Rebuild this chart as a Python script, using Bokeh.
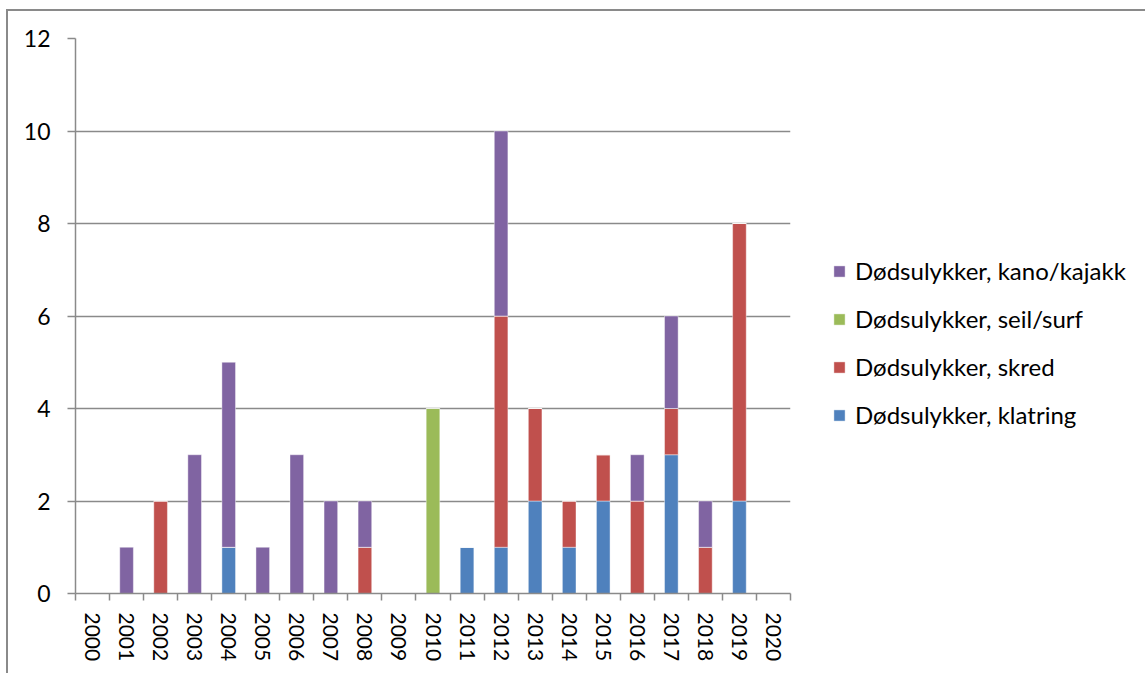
from bokeh.plotting import figure
from bokeh.models import (ColumnDataSource, Range1d, FixedTicker, Legend, LegendItem)
from bokeh.embed import file_html
from bokeh.resources import INLINE

years = [str(y) for y in range(2000, 2021)]
klatring = [0, 0, 0, 0, 1, 0, 0, 0, 0, 0, 0, 1, 1, 2, 1, 2, 0, 3, 0, 2, 0]
skred    = [0, 0, 2, 0, 0, 0, 0, 0, 1, 0, 0, 0, 5, 2, 1, 1, 2, 1, 1, 6, 0]
seil     = [0, 0, 0, 0, 0, 0, 0, 0, 0, 0, 4, 0, 0, 0, 0, 0, 0, 0, 0, 0, 0]
kano     = [0, 1, 0, 3, 4, 1, 3, 2, 1, 0, 0, 0, 4, 0, 0, 0, 1, 2, 1, 0, 0]

series_keys = ["klatring", "skred", "seil", "kano"]
series_labels = ["Dødsulykker, klatring", "Dødsulykker, skred",
                 "Dødsulykker, seil/surf", "Dødsulykker, kano/kajakk"]
colors = ["#4F81BD", "#C0504D", "#9BBB59", "#8064A2"]
y_ticks = [0, 2, 4, 6, 8, 10, 12]

FONT = "Lato"
GRID = "#8a8a8a"

n = len(years)
centers = [i + 0.5 for i in range(n)]   # category slots on the x scale
source = ColumnDataSource(dict(pos=centers, year=years, klatring=klatring,
                               skred=skred, seil=seil, kano=kano))

p = figure(x_range=Range1d(0, n), y_range=Range1d(0, 12),
           frame_width=715, frame_height=555,
           output_backend="svg", toolbar_location=None,
           min_border_left=67, min_border_top=27,
           min_border_right=0, min_border_bottom=80)
p.outline_line_color = None
p.styles = {"margin-left": "6px", "margin-top": "9px",
            "border-left": "2px solid #8a8a8a", "border-top": "2px solid #8a8a8a"}

renderers = p.vbar_stack(series_keys, x="pos", width=0.4, source=source,
                         color=colors, line_color="white", line_width=0.6,
                         line_alpha=0.7)

# y axis
yax = p.yaxis[0]
yax.ticker = FixedTicker(ticks=y_ticks)
yax.minor_tick_line_color = None
yax.major_tick_out = 8
yax.major_tick_in = 0
yax.major_tick_line_color = GRID
yax.major_tick_line_width = 1.5
yax.axis_line_color = GRID
yax.axis_line_width = 1.5
yax.major_label_text_font = FONT
yax.major_label_text_font_size = "23px"
yax.major_label_text_color = "black"
yax.major_label_standoff = 17

p.ygrid.ticker = FixedTicker(ticks=y_ticks)
p.ygrid.grid_line_color = GRID
p.ygrid.grid_line_width = 1.5
p.xgrid.grid_line_color = None

# x axis: labels at centres, tick marks at category boundaries
xax = p.xaxis[0]
xax.ticker = FixedTicker(ticks=centers, minor_ticks=list(range(n + 1)))
xax.major_label_overrides = {c: y for c, y in zip(centers, years)}
xax.major_tick_out = 0
xax.major_tick_in = 0
xax.minor_tick_out = 7
xax.minor_tick_in = 0
xax.minor_tick_line_color = GRID
xax.minor_tick_line_width = 1.5
xax.axis_line_color = GRID
xax.axis_line_width = 1.5
xax.major_label_orientation = "vertical"
xax.major_label_text_font = FONT
xax.major_label_text_font_size = "21px"
xax.major_label_text_color = "black"
xax.major_label_standoff = 12

items = [LegendItem(label=series_labels[i], renderers=[renderers[i]])
         for i in reversed(range(len(series_keys)))]
legend = Legend(items=items, location=(42, 164), orientation="vertical",
                label_text_font=FONT, label_text_font_size="24px",
                label_text_color="black", glyph_width=14, glyph_height=14,
                label_standoff=9, spacing=19, padding=0, margin=0,
                border_line_color=None, background_fill_alpha=0)
p.add_layout(legend, "right")

open("out.html", "w").write(file_html(p, INLINE))
